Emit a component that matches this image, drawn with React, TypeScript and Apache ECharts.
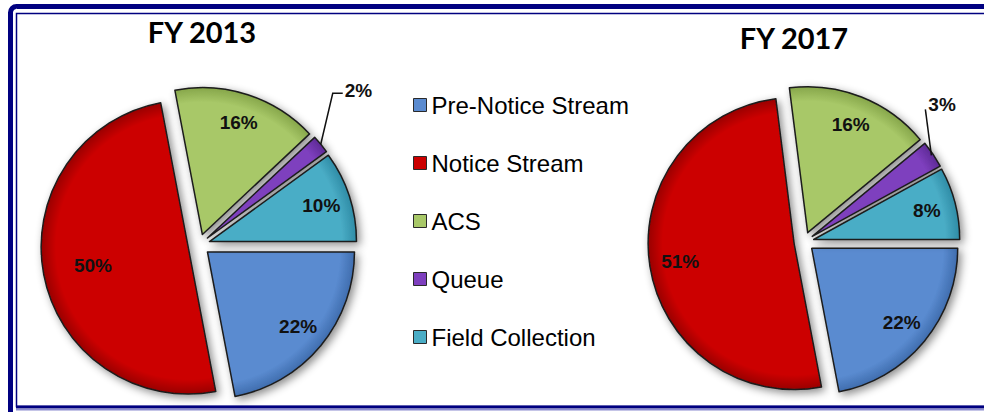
import React, { useEffect, useRef } from 'react';
import * as echarts from 'echarts';

const categories = ['Pre-Notice Stream', 'Notice Stream', 'ACS', 'Queue', 'Field Collection'];
const fy2013Values = [22, 50, 16, 2, 10];
const fy2017Values = [22, 51, 16, 3, 8];
const chartTitles = ['FY 2013', 'FY 2017'];
const sliceColors = ['#5A8BD0', '#CC0000', '#A8C868', '#7E3FBE', '#4AADC6'];
const sliceRimColors = ['#3F6DAE', '#990000', '#86A64A', '#5E2A96', '#2F8CA6'];

const NAVY = '#000080';
const LABEL_FONT = '"Liberation Sans", Arial, sans-serif';
const QUEUE_INDEX = 3;

type PieCfg = {
  values: number[];
  title: string;
  center: [number, number];
  radius: number;
  offset: number;
  titlePos: [number, number];
  labelFactors: (number | null)[];
  leader: { inset: number; dx: number; dy: number; h: number; tx: number; ty: number };
};

const pies: PieCfg[] = [
  {
    values: fy2013Values,
    title: chartTitles[0],
    center: [199, 245],
    radius: 147,
    offset: 11,
    titlePos: [202, 31],
    labelFactors: [0.8, 0.66, 0.8, null, 0.8],
    leader: { inset: 0, dx: 12, dy: -51, h: 10, tx: 2, ty: -3 },
  },
  {
    values: fy2017Values,
    title: chartTitles[1],
    center: [804, 242],
    radius: 146,
    offset: 10,
    titlePos: [794, 37],
    labelFactors: [0.8, 0.79, 0.8, null, 0.8],
    leader: { inset: 2, dx: -6, dy: -46, h: 0, tx: 3, ty: -5 },
  },
];

const sliceItemStyle = {
  borderColor: '#1c1c1c',
  borderWidth: 1.5,
  shadowBlur: 8,
  shadowColor: 'rgba(0,0,0,0.45)',
  shadowOffsetX: 3,
  shadowOffsetY: 3,
};

const labelText = {
  fontSize: 19,
  fontWeight: 'bold',
  fontFamily: LABEL_FONT,
  color: '#111',
};

function sliceFill(p: PieCfg, i: number) {
  return new echarts.graphic.RadialGradient(
    p.center[0],
    p.center[1],
    p.radius,
    [
      { offset: 0, color: sliceColors[i] },
      { offset: 0.9, color: sliceColors[i] },
      { offset: 1, color: sliceRimColors[i] },
    ],
    true
  );
}

function buildSeries(p: PieCfg) {
  const main = {
    type: 'pie',
    center: p.center,
    radius: p.radius,
    startAngle: 0,
    clockwise: true,
    selectedMode: 'multiple',
    selectedOffset: p.offset,
    avoidLabelOverlap: false,
    emphasis: { disabled: true, scale: false },
    itemStyle: sliceItemStyle,
    select: { itemStyle: sliceItemStyle },
    label: { show: false },
    labelLine: { show: false },
    data: p.values.map((v, i) => ({
      value: v,
      name: categories[i],
      selected: true,
      itemStyle: { color: sliceFill(p, i) },
      select: { itemStyle: { color: sliceFill(p, i) } },
    })),
  };
  const factors = Array.from(new Set(p.labelFactors.filter((f) => f != null))) as number[];
  const overlays = factors.map((f) => ({
    type: 'pie',
    center: p.center,
    radius: 2 * (f * p.radius - 3),
    startAngle: 0,
    clockwise: true,
    selectedMode: 'multiple',
    selectedOffset: p.offset,
    silent: true,
    legendHoverLink: false,
    avoidLabelOverlap: false,
    emphasis: { disabled: true, scale: false },
    itemStyle: { color: 'rgba(0,0,0,0)', borderWidth: 0 },
    select: { itemStyle: { color: 'rgba(0,0,0,0)', borderWidth: 0 } },
    label: {
      show: true,
      position: 'inside',
      formatter: (q: any) => q.value + '%',
      ...labelText,
      textBorderWidth: 0,
    },
    labelLine: { show: false },
    data: p.values.map((v, i) => ({
      value: v,
      name: categories[i],
      selected: true,
      itemStyle: { color: 'rgba(0,0,0,0)' },
      label: { show: p.labelFactors[i] === f },
    })),
  }));
  return [main, ...overlays];
}

export default function App() {
  const ref = useRef<HTMLDivElement>(null);
  useEffect(() => {
    if (!ref.current) return;
    const chart = echarts.init(ref.current, null, { renderer: 'svg' });
    const baseGraphics: any[] = [
      {
        type: 'rect',
        shape: { x: 10.5, y: 6.5, width: 1000, height: 500, r: 6 },
        style: { fill: 'none', stroke: NAVY, lineWidth: 5 },
        silent: true,
      },
      {
        type: 'rect',
        shape: { x: 16.5, y: 13.5, width: 1000, height: 393 },
        style: { fill: 'none', stroke: NAVY, lineWidth: 1.5 },
        silent: true,
      },
      {
        type: 'line',
        shape: { x1: 16, y1: 407, x2: 984, y2: 407 },
        style: { stroke: NAVY, lineWidth: 3 },
        silent: true,
      },
      {
        type: 'line',
        shape: { x1: 16, y1: 409.8, x2: 984, y2: 409.8 },
        style: { stroke: '#8C8CD0', lineWidth: 1.5 },
        silent: true,
      },
      ...pies.map((p) => ({
        type: 'text',
        x: p.titlePos[0],
        y: p.titlePos[1],
        style: {
          text: p.title,
          fontSize: 29,
          fontWeight: 'bold',
          fontFamily: 'Lato, "Open Sans", sans-serif',
          fill: '#000',
          align: 'center',
          verticalAlign: 'middle',
        },
        silent: true,
      })),
    ];
    const series = pies.flatMap(buildSeries);
    const option: any = {
      animation: false,
      backgroundColor: '#ffffff',
      legend: {
        orient: 'vertical',
        left: 413,
        top: 93,
        padding: 0,
        icon: 'rect',
        itemWidth: 13,
        itemHeight: 13,
        itemGap: 34,
        selectedMode: false,
        data: categories.map((c, i) => ({
          name: c,
          itemStyle: {
            color: sliceColors[i],
            borderColor: '#2a2a2a',
            borderWidth: 1,
            shadowBlur: 0,
            shadowOffsetX: 0,
            shadowOffsetY: 0,
          },
        })),
        itemStyle: { borderColor: '#2a2a2a', borderWidth: 1, shadowBlur: 0, shadowOffsetX: 0, shadowOffsetY: 0 },
        textStyle: { fontSize: 24, lineHeight: 24, color: '#000', fontFamily: LABEL_FONT },
      },
      graphic: baseGraphics,
      series,
    };
    chart.setOption(option);

    // Leader lines for the small "Queue" slices, anchored on the library's own sector layout.
    const leaderGraphics: any[] = [];
    try {
      const model: any = (chart as any).getModel();
      let seriesIndex = 0;
      pies.forEach((p) => {
        const s = model.getSeriesByIndex(seriesIndex);
        const data = s.getData();
        const lay = data.getItemLayout(QUEUE_INDEX);
        const mid = (lay.startAngle + lay.endAngle) / 2;
        const ox = Math.cos(mid) * p.offset;
        const oy = Math.sin(mid) * p.offset;
        const rr = lay.r - p.leader.inset;
        const p0 = [lay.cx + ox + rr * Math.cos(mid), lay.cy + oy + rr * Math.sin(mid)];
        const p1 = [p0[0] + p.leader.dx, p0[1] + p.leader.dy];
        const p2 = [p1[0] + p.leader.h, p1[1]];
        leaderGraphics.push({
          type: 'polyline',
          shape: { points: [p0, p1, p2] },
          style: { stroke: '#111', lineWidth: 1.5, fill: 'none' },
          silent: true,
          z: 10,
        });
        leaderGraphics.push({
          type: 'text',
          x: p2[0] + p.leader.tx,
          y: p2[1] + p.leader.ty,
          style: {
            text: p.values[QUEUE_INDEX] + '%',
            fontSize: labelText.fontSize,
            fontWeight: 'bold',
            fontFamily: LABEL_FONT,
            fill: '#111',
            align: 'left',
            verticalAlign: 'middle',
          },
          silent: true,
          z: 10,
        });
        seriesIndex += 1 + new Set(p.labelFactors.filter((f) => f != null)).size;
      });
    } catch (e) {
      // leave the leaders out if the layout cannot be read
    }
    if (leaderGraphics.length) {
      chart.setOption({ graphic: [...baseGraphics, ...leaderGraphics] });
    }
    return () => chart.dispose();
  }, []);
  return (
    <div
      ref={ref}
      style={{ position: 'absolute', left: 0, top: 0, width: 984, height: 412 }}
    />
  );
}
